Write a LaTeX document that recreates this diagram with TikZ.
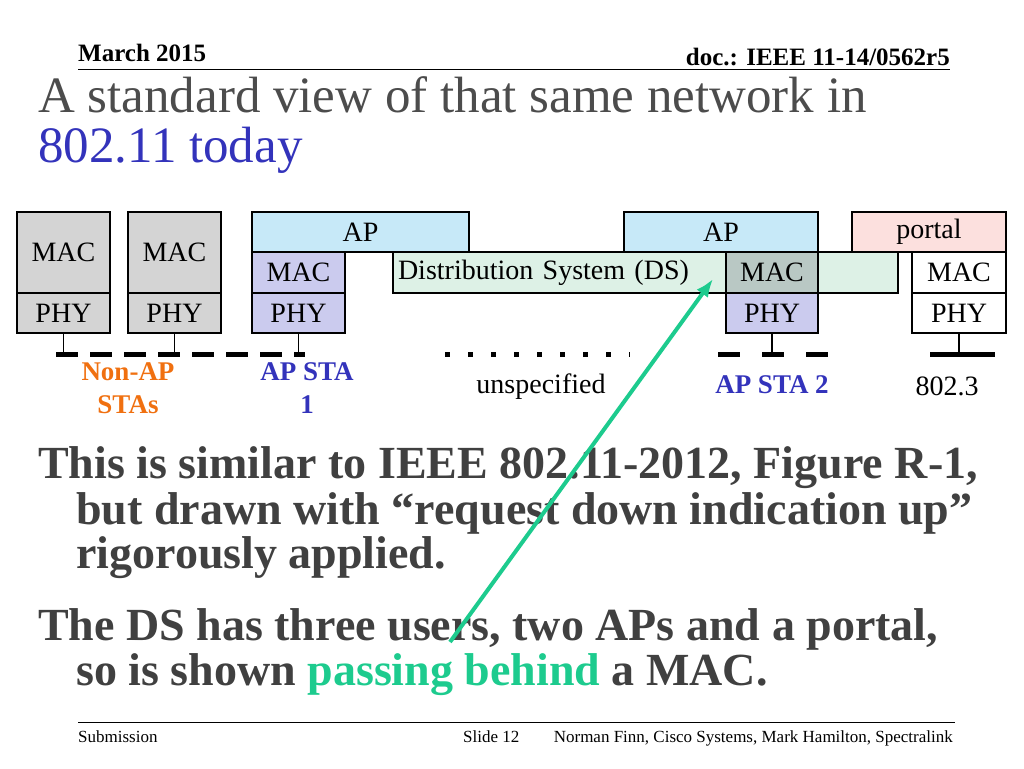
\documentclass[tikz,border=0pt]{standalone}
\usepackage{fontspec}
\usetikzlibrary{arrows.meta}
\setmainfont{Liberation Serif}
\begin{document}
\begin{tikzpicture}[x=1pt,y=-1pt,
 bx/.style={draw,line width=1.3pt,inner sep=0pt,font=\fontsize{28}{30}\selectfont},
 stub/.style={line width=1.5pt},
 bus/.style={line width=5pt,dash pattern=on 22pt off 12pt},
 lbl/.style={font=\fontsize{27}{33}\selectfont\bfseries,align=center},
 body/.style={font=\fontsize{46}{50}\selectfont\bfseries,text=black!75,anchor=base west,inner sep=0pt}]
\definecolor{gr}{HTML}{D4D4D4}\definecolor{ap}{HTML}{C7E9F8}\definecolor{pu}{HTML}{CBCBEE}
\definecolor{ds}{HTML}{DDF1E6}\definecolor{pt}{HTML}{FCE0DE}\definecolor{mx}{HTML}{B9C8C4}
\definecolor{grn}{HTML}{1DCB8E}\definecolor{tb}{HTML}{3333BB}\definecolor{org}{HTML}{F07010}
\useasboundingbox (0,0) rectangle (1024,768);
% header
\node[font=\fontsize{25}{27}\selectfont\bfseries,anchor=base west,inner sep=0pt] (date) at (78,61) {March 2015};
\node[font=\fontsize{25}{27}\selectfont\bfseries,anchor=base east,inner sep=0pt] (doc) at (950,66) {doc.: IEEE 11-14/0562r5};
\draw[line width=1pt] (78,69) -- (950,69);
\node[font=\fontsize{51}{51}\selectfont,text=black!70,anchor=base west,inner sep=0pt] (title) at (38,112) {A standard view of that same network in};
\node[font=\fontsize{51}{51}\selectfont,text=tb,anchor=base west,inner sep=0pt] (title2) at (38,162) {802.11 today};
% non-AP
\node[bx,fill=gr,minimum width=93,minimum height=81] (m1) at (63.5,252.5) {MAC};
\node[bx,fill=gr,minimum width=93,minimum height=40] (p1) at (63.5,313) {PHY};
\node[bx,fill=gr,minimum width=93,minimum height=81] (m2) at (174.5,252.5) {MAC};
\node[bx,fill=gr,minimum width=93,minimum height=40] (p2) at (174.5,313) {PHY};
% DS
\node[bx,fill=ds,minimum width=505,minimum height=41,text width=495,align=left] (ds) at (645.5,272.5) {Distribution System (DS)};
% AP1
\node[bx,fill=ap,minimum width=217,minimum height=40] (ap1) at (360.5,232) {AP};
\node[bx,fill=pu,minimum width=93,minimum height=41] (am1) at (298.5,272.5) {MAC};
\node[bx,fill=pu,minimum width=93,minimum height=40] (ap1p) at (298.5,313) {PHY};
% AP2
\node[bx,fill=ap,minimum width=194,minimum height=40] (ap2) at (721,232) {AP};
\node[bx,fill=mx,minimum width=92,minimum height=41] (am2) at (772,272.5) {MAC};
\node[bx,fill=pu,minimum width=92,minimum height=40] (ap2p) at (772,313) {PHY};
% portal
\node[bx,fill=pt,minimum width=154,minimum height=40] (por) at (929,232) {portal};
\node[bx,fill=white,minimum width=94,minimum height=41] (pm) at (959,272.5) {MAC};
\node[bx,fill=white,minimum width=94,minimum height=40] (pp) at (959,313) {PHY};
\draw[line width=1.3pt] (am1.north west) -- (pm.north east);
% stubs and buses
\coordinate (b1) at (63.5,354);\coordinate (b2) at (174.5,354);\coordinate (b3) at (298.5,354);
\coordinate (b4) at (772,354);\coordinate (b5) at (959,354);
\foreach \a/\b in {p1/b1,p2/b2,ap1p/b3,ap2p/b4,pp/b5} \draw[stub] (\a.south) -- (\b);
\draw[bus] (56,354) -- (305,354);
\draw[line width=5pt,dash pattern=on 5pt off 18pt] (445,354) -- (630,354);
\draw[bus,dash pattern=on 22pt off 22pt] (718,354) -- (832,354);
\draw[line width=5pt] (930,354) -- (995,354);
\node[lbl,text=org] (l1) at (128,388) {Non-AP\\STAs};
\node[lbl,text=tb] (l2) at (307,388) {AP STA\\1};
\node[font=\fontsize{28}{30}\selectfont] (l3) at (541,387) {unspecified};
\node[lbl,text=tb] (l4) at (772,385) {AP STA 2};
\node[font=\fontsize{28}{30}\selectfont] (l5) at (947,386) {802.3};
% body
\node[body] (t1) at (38,478) {This is similar to IEEE 802.11-2012, Figure R-1,};
\node[body] (t2) at (76,524) {but drawn with “request down indication up”};
\node[body] (t3) at (76,568) {rigorously applied.};
\node[body] (t4) at (38,640) {The DS has three users, two APs and a portal,};
\node[body] (t5) at (76,685) {so is shown \textcolor{grn}{passing behind} a MAC.};
\coordinate (as) at (450,642);
\draw[grn,line width=4pt,-{Latex[length=18pt,width=14pt]}] (as) -- (713,279);
% footer
\draw[line width=1pt] (78,722) -- (955,722);
\node[font=\fontsize{17}{19}\selectfont,anchor=base west,inner sep=0pt] (f1) at (78,742) {Submission};
\node[font=\fontsize{17}{19}\selectfont,anchor=base west,inner sep=0pt] (f2) at (463,742) {Slide 12};
\node[font=\fontsize{17}{19}\selectfont,anchor=base east,inner sep=0pt] (f3) at (953,742) {Norman Finn, Cisco Systems, Mark Hamilton, Spectralink};
\end{tikzpicture}
\end{document}
